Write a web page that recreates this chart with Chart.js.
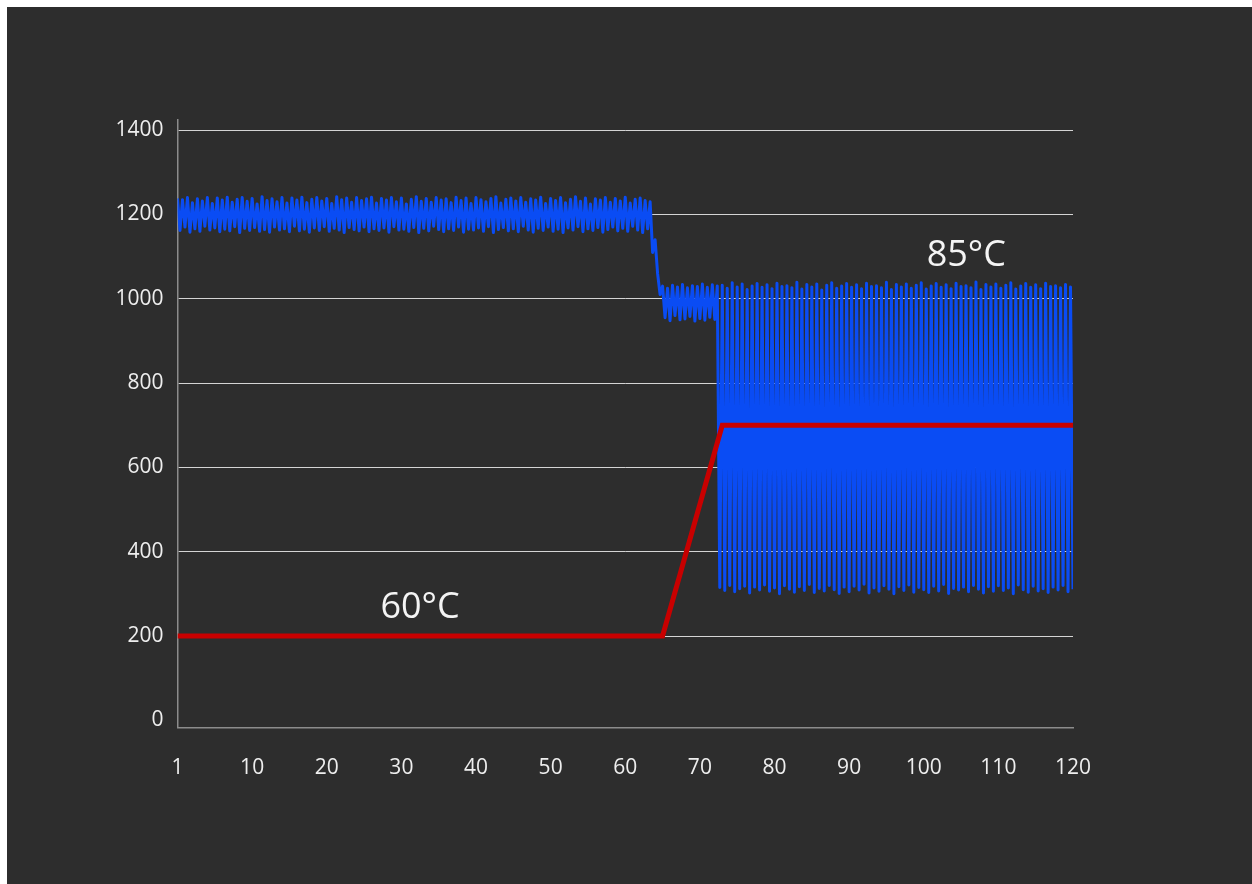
<!DOCTYPE html>
<html>
<head>
<meta charset="utf-8">
<script src="https://cdn.jsdelivr.net/npm/chart.js@4.4.1/dist/chart.umd.min.js"></script>
<style>
  html, body { margin: 0; padding: 0; background: #ffffff; }
  #wrap { position: absolute; left: 7px; top: 7px; width: 1245px; height: 877px; background: #2d2d2d; }
  canvas { display: block; }
</style>
</head>
<body>
<div id="wrap"><canvas id="c"></canvas></div>
<script>
// ---- data ----
const sampleStep = 1 / 3;            // x distance between consecutive speed samples
const speedValues = [
1238,1162,1235,1170,1240,1158,1228,1166,1237,1160,
1232,1172,1240,1163,1226,1168,1239,1159,1234,1165,
1241,1161,1229,1171,1236,1157,1240,1167,1231,1162,
1238,1169,1225,1160,1242,1164,1233,1158,1237,1170,
1230,1163,1240,1166,1227,1159,1239,1172,1234,1161,
1241,1165,1228,1158,1236,1168,1240,1162,1232,1171,
1238,1160,1226,1167,1242,1163,1235,1157,1239,1169,
1229,1164,1240,1161,1233,1170,1237,1159,1241,1166,
1227,1162,1238,1168,1234,1158,1240,1171,1230,1163,
1239,1165,1225,1160,1236,1169,1242,1157,1231,1167,
1238,1161,1229,1172,1240,1164,1234,1159,1237,1166,
1228,1162,1241,1170,1233,1158,1239,1165,1226,1163,
1240,1168,1235,1160,1230,1171,1238,1157,1242,1164,
1227,1169,1236,1161,1239,1166,1232,1159,1240,1172,
1229,1163,1237,1158,1234,1167,1241,1162,1226,1170,
1238,1160,1233,1165,1240,1157,1228,1168,1236,1163,
1242,1171,1231,1159,1239,1166,1225,1162,1237,1169,
1234,1158,1240,1164,1229,1170,1238,1161,1232,1167,
1241,1160,1227,1172,1236,1163,1239,1157,1233,1166,
1230,1110,1140,1060,1010,
1030,955,1025,948,1032,960,1028,950,1034,952,
1026,958,1031,947,1029,953,1035,949,1027,956,
1033,951,1030,
315,1032,308,1025,320,1038,305,1028,312,1035,
318,1022,302,1030,316,1036,309,1027,321,1033,
306,1024,314,1037,300,1029,319,1031,311,1026,
304,1039,317,1023,308,1034,322,1028,303,1035,
313,1021,307,1032,320,1038,310,1025,301,1030,
316,1036,305,1027,318,1033,309,1024,323,1037,
302,1029,314,1031,306,1026,319,1039,311,1022,
300,1034,317,1028,308,1035,321,1025,304,1032,
315,1038,310,1023,303,1030,318,1036,307,1027,
322,1033,301,1024,313,1037,309,1029,316,1031,
305,1026,320,1040,311,1022,302,1034,317,1028,
306,1035,319,1025,308,1032,314,1038,300,1023,
321,1030,310,1036,304,1027,318,1033,307,1024,
312,1037,303,1029,316,1031,309,1026,320,1034,
305,1028,311
];
const tempX = [0, 65, 73, 120];
const tempY = [200, 200, 700, 700];

const xTickValues = [0, 10, 20, 30, 40, 50, 60, 70, 80, 90, 100, 110, 120];
const xTickLabels = ['1', '10', '20', '30', '40', '50', '60', '70', '80', '90', '100', '110', '120'];
const yTickValues = [0, 200, 400, 600, 800, 1000, 1200, 1400];

const noteTexts = ['60°C', '85°C'];
const noteX = [32.5, 105.7];
const noteY = [268, 1102];

// ---- build ----
const speedData = speedValues.map((v, i) => ({ x: i * sampleStep, y: v }));
const tempData = tempX.map((x, i) => ({ x: x, y: tempY[i] }));

const notesPlugin = {
  id: 'notes',
  afterDatasetsDraw(chart) {
    const { ctx, scales: { x, y } } = chart;
    ctx.save();
    ctx.fillStyle = '#f4f4f4';
    ctx.font = '36px "Open Sans"';
    ctx.textAlign = 'center';
    ctx.textBaseline = 'middle';
    noteTexts.forEach((t, i) => {
      ctx.fillText(t, x.getPixelForValue(noteX[i]), y.getPixelForValue(noteY[i]));
    });
    ctx.restore();
  }
};

const labelColor = '#eeeeee';
const tickFont = { family: 'Open Sans', size: 21 };

new Chart(document.getElementById('c'), {
  type: 'line',
  data: {
    datasets: [
      {
        data: tempData,
        borderColor: '#c80000',
        borderWidth: 5,
        pointRadius: 0,
        tension: 0,
        borderJoinStyle: 'miter',
        order: 0
      },
      {
        data: speedData,
        borderColor: '#0a4cf4',
        borderWidth: 3,
        borderJoinStyle: 'round',
        pointRadius: 0,
        tension: 0,
        order: 1
      }
    ]
  },
  options: {
    responsive: true,
    maintainAspectRatio: false,
    animation: false,
    devicePixelRatio: 1,
    layout: { padding: { left: 0, top: 113, right: 179, bottom: 96.5 } },
    plugins: { legend: { display: false }, tooltip: { enabled: false } },
    scales: {
      x: {
        type: 'linear',
        min: 0,
        max: 120,
        afterBuildTicks(scale) { scale.ticks = xTickValues.map(v => ({ value: v })); },
        afterFit(scale) { scale.height = 60; },
        ticks: {
          autoSkip: false,
          maxRotation: 0,
          padding: 28,
          color: labelColor,
          font: tickFont,
          callback(value) {
            const k = xTickValues.indexOf(value);
            return k >= 0 ? xTickLabels[k] : '';
          }
        },
        grid: { display: true, drawOnChartArea: false, drawTicks: false },
        border: { display: true, color: '#8c8c8c', width: 1.5 }
      },
      y: {
        type: 'linear',
        min: -17,
        max: 1424,
        afterBuildTicks(scale) { scale.ticks = yTickValues.map(v => ({ value: v })); },
        afterFit(scale) { scale.width = 170.5; },
        ticks: {
          autoSkip: false,
          padding: 14,
          color: labelColor,
          font: tickFont,
          callback(value) { return String(value); }
        },
        grid: {
          drawTicks: false,
          color(ctx) { return ctx.tick && ctx.tick.value === 0 ? 'rgba(0,0,0,0)' : '#d4d4d4'; },
          lineWidth: 1
        },
        border: { display: true, color: '#8c8c8c', width: 1.5 }
      }
    }
  },
  plugins: [notesPlugin]
});
</script>
</body>
</html>
